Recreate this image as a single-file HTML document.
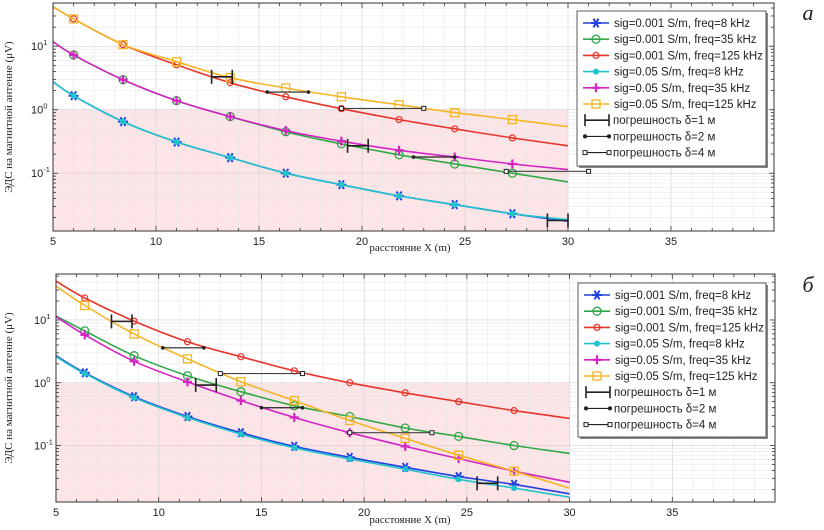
<!DOCTYPE html>
<html><head><meta charset="utf-8">
<style>
html,body{margin:0;padding:0;background:#fff;}
svg{display:block;}
.tick{font-family:"Liberation Sans",sans-serif;font-size:11px;fill:#222;}
.lab{font-family:"Liberation Serif","DejaVu Serif",serif;font-size:11px;fill:#222;}
.leg{font-family:"Liberation Sans",sans-serif;font-size:11.5px;fill:#222;}
</style></head>
<body>
<svg id="chart" width="824" height="530" viewBox="0 0 824 530" xmlns="http://www.w3.org/2000/svg"></svg>
<script>
// ---- shared data ----
const seriesNames = ["sig=0.001 S/m, freq=8 kHz","sig=0.001 S/m, freq=35 kHz","sig=0.001 S/m, freq=125 kHz","sig=0.05 S/m, freq=8 kHz","sig=0.05 S/m, freq=35 kHz","sig=0.05 S/m, freq=125 kHz"];
const errNames = ["погрешность δ=1 м","погрешность δ=2 м","погрешность δ=4 м"];
const xTicks = [5,10,15,20,25,30,35];
const yTickExps = [1,0,-1];

// ---- panel a ----
const xA = [5,6,8.4,11,13.6,16.3,19,21.8,24.5,27.3,30];
const aBlue   = [2.76,1.66,0.65,0.31,0.176,0.10,0.066,0.044,0.032,0.023,0.0175];
const aGreen  = [11.8,7.3,2.97,1.39,0.78,0.45,0.29,0.195,0.14,0.10,0.073];
const aRed    = [42,27,10.6,5.1,2.66,1.6,1.04,0.7,0.5,0.36,0.27];
const aCyan   = [2.76,1.66,0.65,0.31,0.176,0.10,0.066,0.044,0.032,0.023,0.0185];
const aPurple = [11.8,7.3,2.97,1.39,0.78,0.47,0.32,0.23,0.18,0.14,0.114];
const aYellow = [42,27,10.6,5.7,3.2,2.2,1.6,1.2,0.9,0.7,0.54];
const aErr1 = [[12.7,13.7,3.3],[19.3,20.3,0.27],[29,30,0.018]];
const aErr2 = [[15.4,17.4,1.9],[22.5,24.5,0.18]];
const aErr4 = [[19,23,1.05],[27,31,0.107]];

// ---- panel b ----
const xB = [5,6.4,8.8,11.4,14,16.6,19.3,22,24.6,27.3,30];
const bBlue   = [2.7,1.44,0.6,0.29,0.16,0.097,0.065,0.045,0.032,0.024,0.017];
const bGreen  = [11.6,6.7,2.7,1.29,0.72,0.43,0.29,0.19,0.14,0.10,0.075];
const bRed    = [41.6,22.4,9.6,4.5,2.6,1.55,1.0,0.69,0.50,0.36,0.27];
const bCyan   = [2.6,1.4,0.58,0.28,0.152,0.092,0.061,0.042,0.029,0.021,0.015];
const bPurple = [11.3,5.8,2.2,1.03,0.52,0.28,0.16,0.097,0.062,0.039,0.026];
const bYellow = [34.7,17,6.0,2.4,1.04,0.52,0.25,0.13,0.07,0.039,0.021];
const bErr1 = [[7.7,8.7,9.5],[11.8,12.8,0.92],[25.5,26.5,0.025]];
const bErr2 = [[10.2,12.2,3.6],[15,17,0.40]];
const bErr4 = [[13,17,1.4],[19.3,23.3,0.16]];

const colors = ["#2340e0","#30a848","#e8352c","#22c4cc","#d424c4","#f4b524"];
const markers = ["star","circle","dotcircle","dot","plus","square"];
const NS = "http://www.w3.org/2000/svg";
const svg = document.getElementById("chart");
function mk(tag, attrs, parent){const e=document.createElementNS(NS,tag);for(const k in attrs)e.setAttribute(k,attrs[k]);(parent||svg).appendChild(e);return e;}

function smoothPath(pts){
  let d="M"+pts[0][0].toFixed(1)+","+pts[0][1].toFixed(1);
  for(let i=0;i<pts.length-1;i++){
    const p0=pts[i-1]||pts[i],p1=pts[i],p2=pts[i+1],p3=pts[i+2]||p2;
    const c1=[p1[0]+(p2[0]-p0[0])/6,p1[1]+(p2[1]-p0[1])/6];
    const c2=[p2[0]-(p3[0]-p1[0])/6,p2[1]-(p3[1]-p1[1])/6];
    d+=" C"+c1[0].toFixed(1)+","+c1[1].toFixed(1)+" "+c2[0].toFixed(1)+","+c2[1].toFixed(1)+" "+p2[0].toFixed(1)+","+p2[1].toFixed(1);
  }
  return d;
}
function drawMarker(g,type,x,y,c){
  if(type==="star"){
    for(const a of [0,60,120]){const r=a*Math.PI/180;const l=mk("line",{x1:x-5*Math.cos(r),y1:y-5*Math.sin(r),x2:x+5*Math.cos(r),y2:y+5*Math.sin(r),stroke:c,"stroke-width":2},g);}
  }else if(type==="circle"){mk("circle",{cx:x,cy:y,r:4,fill:"none",stroke:c,"stroke-width":1.3},g);}
  else if(type==="dotcircle"){mk("circle",{cx:x,cy:y,r:3,fill:"none",stroke:c,"stroke-width":1.2},g);}
  else if(type==="dot"){mk("circle",{cx:x,cy:y,r:3,fill:c},g);}
  else if(type==="plus"){mk("line",{x1:x-4.5,y1:y,x2:x+4.5,y2:y,stroke:c,"stroke-width":2.2},g);mk("line",{x1:x,y1:y-4.5,x2:x,y2:y+4.5,stroke:c,"stroke-width":2.2},g);}
  else if(type==="square"){mk("rect",{x:x-4,y:y-4,width:8,height:8,fill:"none",stroke:c,"stroke-width":1.3},g);}
}

function panel(cfg){
  const {id,x0,x1,top,bottom,yMax,yMin,xs,series,e1,e2,e4,legend,label,labelY,xLabY}=cfg;
  const lmin=Math.log10(yMin),lmax=Math.log10(yMax);
  const X=v=>x0+(v-5)/(40-5)*(x1-x0);
  const Y=v=>top+(lmax-Math.log10(v))/(lmax-lmin)*(bottom-top);
  const g=mk("g",{});
  
  
  // pink region
  const pr=mk("rect",{x:X(5),y:Y(1),width:X(30)-X(5),height:bottom-Y(1),fill:"#fde4e6"},g);
  
  
  // grid
  const grid=mk("g",{stroke:"#dcdcdc","stroke-width":0.6},g);
  
  
  for(let v=6;v<40;v++) mk("line",{x1:X(v),x2:X(v),y1:top,y2:bottom,stroke:v%5===0?"#cfcfcf":"#e8e8e8"},grid);
  for(let e=-3;e<=2;e++) for(let m=1;m<10;m++){const v=m*Math.pow(10,e);if(v<=yMin||v>=yMax)continue;const y=Y(v);mk("line",{x1:x0,x2:x1,y1:y,y2:y,stroke:m===1?"#cfcfcf":"#e8e8e8"},grid);}
  // ticks
  const tk=mk("g",{stroke:"#333","stroke-width":0.8},g);
  for(let v=6;v<40;v++){const L=v%5===0?5:3;mk("line",{x1:X(v),x2:X(v),y1:top,y2:top+L},tk);mk("line",{x1:X(v),x2:X(v),y1:bottom,y2:bottom-L},tk);}
  for(let e=-3;e<=2;e++) for(let m=1;m<10;m++){const v=m*Math.pow(10,e);if(v<=yMin||v>=yMax)continue;const y=Y(v);const L=m===1?5:3;mk("line",{x1:x0,x2:x0+L,y1:y,y2:y},tk);mk("line",{x1:x1,x2:x1-L,y1:y,y2:y},tk);}
  // series
  series.forEach((s,i)=>{
    const sg=mk("g",{},g);
    
    
    const pts=xs.map((x,k)=>[X(x),Y(s[k])]);
    mk("path",{d:smoothPath(pts),fill:"none",stroke:colors[i],"stroke-width":1.6},sg);
    for(let k=1;k<pts.length-1;k++) drawMarker(sg,markers[i],pts[k][0],pts[k][1],colors[i]);
  });
  // error bars
  const eg=mk("g",{stroke:"#222"},g);
  
  
  e1.forEach(b=>{const y=Y(b[2]);mk("line",{x1:X(b[0]),x2:X(b[1]),y1:y,y2:y,"stroke-width":1.6},eg);mk("line",{x1:X(b[0]),x2:X(b[0]),y1:y-7,y2:y+7,"stroke-width":1.6},eg);mk("line",{x1:X(b[1]),x2:X(b[1]),y1:y-7,y2:y+7,"stroke-width":1.6},eg);});
  e2.forEach(b=>{const y=Y(b[2]);mk("line",{x1:X(b[0]),x2:X(b[1]),y1:y,y2:y,"stroke-width":1.2},eg);mk("circle",{cx:X(b[0]),cy:y,r:1.8,fill:"#222",stroke:"none"},eg);mk("circle",{cx:X(b[1]),cy:y,r:1.8,fill:"#222",stroke:"none"},eg);});
  e4.forEach(b=>{const y=Y(b[2]);mk("line",{x1:X(b[0]),x2:X(b[1]),y1:y,y2:y,"stroke-width":1.1,stroke:"#444"},eg);mk("rect",{x:X(b[0])-2,y:y-2,width:4,height:4,fill:"#fff","stroke-width":1},eg);mk("rect",{x:X(b[1])-2,y:y-2,width:4,height:4,fill:"#fff","stroke-width":1},eg);});
  // frame
  mk("rect",{x:x0,y:top,width:x1-x0,height:bottom-top,fill:"none",stroke:"#333","stroke-width":1},g);
  // tick labels
  xTicks.forEach(v=>{const t=mk("text",{x:X(v),y:bottom+14,"text-anchor":"middle",class:"tick"},g);t.textContent=v;
    
    });
  yTickExps.forEach(e=>{const t=mk("text",{x:x0-22,y:Y(Math.pow(10,e))+4,class:"tick"},g);t.textContent="10";const s=mk("tspan",{dy:-5,"font-size":"7.5"},t);s.textContent=String(e);
    
    });
  const xl=mk("text",{x:410,y:xLabY,"text-anchor":"middle",class:"lab"},g);xl.textContent="расстояние X (m)";
  
  
  const yc=(top+bottom)/2;
  const yl=mk("text",{x:12,y:yc,"text-anchor":"middle",class:"lab",transform:"rotate(-90 12 "+yc+")"},g);yl.textContent="ЭДС на магнитной антенне (μV)";
  
  
  // legend
  const lg=mk("g",{},g);
  
  
  mk("rect",{x:legend.x+2,y:legend.y+2,width:legend.w,height:legend.h,fill:"#888"},lg);
  mk("rect",{x:legend.x,y:legend.y,width:legend.w,height:legend.h,fill:"#fff",stroke:"#333","stroke-width":0.8},lg);
  const rowH=16.2;
  seriesNames.forEach((n,i)=>{
    const y=legend.y+12+i*rowH;const lx=legend.x+6;
    const row=mk("g",{},lg);
    
    
    mk("line",{x1:lx,x2:lx+26,y1:y,y2:y,stroke:colors[i],"stroke-width":1.6},row);
    drawMarker(row,markers[i],lx+13,y,colors[i]);
    const t=mk("text",{x:lx+31,y:y+4,class:"leg"},row);t.textContent=n;
  });
  errNames.forEach((n,i)=>{
    const y=legend.y+12+(6+i)*rowH;const lx=legend.x+6;
    const row=mk("g",{stroke:"#222"},lg);
    
    
    mk("line",{x1:lx+2,x2:lx+26,y1:y,y2:y,"stroke-width":i===0?1.6:1.1},row);
    if(i===0){mk("line",{x1:lx+2,x2:lx+2,y1:y-6,y2:y+6,"stroke-width":1.6},row);mk("line",{x1:lx+26,x2:lx+26,y1:y-6,y2:y+6,"stroke-width":1.6},row);}
    else if(i===1){mk("circle",{cx:lx+2,cy:y,r:1.6,fill:"#222"},row);mk("circle",{cx:lx+26,cy:y,r:1.6,fill:"#222"},row);}
    else{mk("rect",{x:lx,y:y-2,width:4,height:4,fill:"#fff"},row);mk("rect",{x:lx+24,y:y-2,width:4,height:4,fill:"#fff"},row);}
    const t=mk("text",{x:lx+30,y:y+4,class:"leg",stroke:"none"},row);t.textContent=n;
  });
  const pl=mk("text",{x:808,y:labelY,"text-anchor":"middle","font-family":"Liberation Serif, serif","font-style":"italic","font-size":"22",fill:"#222"},g);
  pl.textContent=label;
  
  
}

panel({id:"panel-a",x0:53,x1:774,top:3,bottom:231,yMax:48,yMin:0.0123,xs:xA,
  series:[aBlue,aGreen,aRed,aCyan,aPurple,aYellow],e1:aErr1,e2:aErr2,e4:aErr4,
  legend:{x:577,y:11,w:189,h:155},label:"а",labelY:20,xLabY:251});
panel({id:"panel-b",x0:56,x1:775,top:274,bottom:502,yMax:54,yMin:0.0126,xs:xB,
  series:[bBlue,bGreen,bRed,bCyan,bPurple,bYellow],e1:bErr1,e2:bErr2,e4:bErr4,
  legend:{x:578,y:283,w:188,h:154},label:"б",labelY:292,xLabY:523});
</script>
</body></html>
